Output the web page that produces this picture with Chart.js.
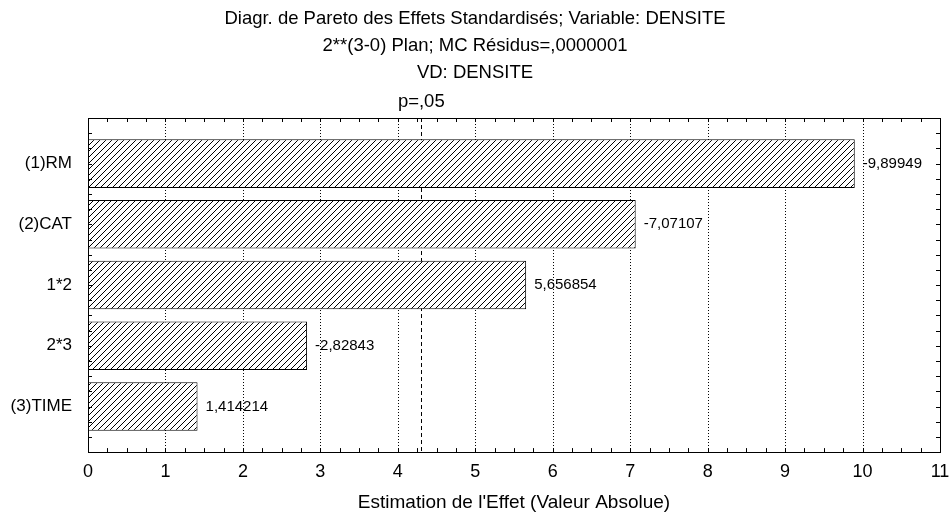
<!DOCTYPE html>
<html>
<head>
<meta charset="utf-8">
<script src="https://cdn.jsdelivr.net/npm/chart.js@4/dist/chart.umd.min.js"></script>
<style>
  html, body { margin: 0; background: #fff; }
  #wrap { width: 950px; height: 513px; }
</style>
</head>
<body>
<div id="wrap"><canvas id="pareto"></canvas></div>
<script>
// Pareto des effets standardisés
const effects = ['(1)RM', '(2)CAT', '1*2', '2*3', '(3)TIME'];
const absEffects = [9.89949, 7.07107, 5.656854, 2.82843, 1.414214];
const effectLabels = ['-9,89949', '-7,07107', '5,656854', '-2,82843', '1,414214'];
const xTickValues = [0, 1, 2, 3, 4, 5, 6, 7, 8, 9, 10, 11];
const critT = 4.303; // p=,05
const titleLines = [
  'Diagr. de Pareto des Effets Standardisés; Variable: DENSITE',
  '2**(3-0) Plan; MC Résidus=,0000001',
  'VD: DENSITE'
];
const critLabel = 'p=,05';
const xTitle = "Estimation de l'Effet (Valeur Absolue)";

const FONT = "'Liberation Sans', Arial, sans-serif";

function hatchPattern() {
  const c = document.createElement('canvas');
  c.width = 6; c.height = 6;
  const g = c.getContext('2d');
  g.fillStyle = '#fff';
  g.fillRect(0, 0, 6, 6);
  g.strokeStyle = '#000';
  g.lineWidth = 1;
  g.beginPath();
  g.moveTo(-1, 7); g.lineTo(7, -1);
  g.moveTo(-1, 1); g.lineTo(1, -1);
  g.moveTo(5, 7); g.lineTo(7, 5);
  g.stroke();
  return g.createPattern(c, 'repeat');
}

// grille pointillée, ligne critique, petites graduations, cadre
const framePlugin = {
  id: 'frame',
  beforeDatasetsDraw(chart) {
    const { ctx, chartArea: a, scales } = chart;
    const x = scales.x;
    ctx.save();
    ctx.strokeStyle = '#000';
    ctx.lineWidth = 1;
    ctx.setLineDash([1, 2]);
    xTickValues.slice(1, -1).forEach(v => {
      const px = Math.round(x.getPixelForValue(v)) + 0.5;
      ctx.beginPath(); ctx.moveTo(px, a.top); ctx.lineTo(px, a.bottom); ctx.stroke();
    });
    ctx.setLineDash([4, 3]);
    const cx = Math.round(x.getPixelForValue(critT)) + 0.5;
    ctx.beginPath(); ctx.moveTo(cx, a.top); ctx.lineTo(cx, a.bottom); ctx.stroke();
    ctx.restore();
  },
  afterDraw(chart) {
    const { ctx, chartArea: a, scales } = chart;
    const x = scales.x, y = scales.y;
    ctx.save();
    ctx.strokeStyle = '#000';
    ctx.lineWidth = 1;
    ctx.strokeRect(Math.round(a.left) + 0.5, Math.round(a.top) + 0.5,
      Math.round(a.right - a.left), Math.round(a.bottom - a.top));
    ctx.beginPath();
    for (let v = 0.25; v < 11; v += 0.25) {
      const px = Math.round(x.getPixelForValue(v)) + 0.5;
      ctx.moveTo(px, a.bottom); ctx.lineTo(px, a.bottom - 4);
      ctx.moveTo(px, a.top); ctx.lineTo(px, a.top + 4);
    }
    for (let v = 0.5; v < 5.75; v += 0.25) {
      const py = Math.round(y.getPixelForValue(v)) + 0.5;
      ctx.moveTo(a.left, py); ctx.lineTo(a.left + 4, py);
      ctx.moveTo(a.right, py); ctx.lineTo(a.right - 4, py);
    }
    ctx.stroke();

    // étiquette p=,05
    ctx.fillStyle = '#000';
    ctx.font = '18.5px ' + FONT;
    ctx.textAlign = 'center';
    ctx.textBaseline = 'middle';
    ctx.fillText(critLabel, x.getPixelForValue(critT), a.top - 16);

    // valeurs des effets
    ctx.font = '15px ' + FONT;
    ctx.textAlign = 'left';
    chart.getDatasetMeta(0).data.forEach((bar, i) => {
      ctx.fillText(effectLabels[i], bar.x + 8, bar.y);
    });
    ctx.restore();
  }
};

new Chart(document.getElementById('pareto'), {
  type: 'bar',
  data: {
    datasets: [{
      data: absEffects.map((v, i) => ({ x: v, y: i + 1 })),
      backgroundColor: hatchPattern(),
      borderColor: '#000',
      borderWidth: 1,
      borderSkipped: false,
      categoryPercentage: 1,
      barPercentage: 0.8
    }]
  },
  options: {
    indexAxis: 'y',
    responsive: true,
    maintainAspectRatio: false,
    animation: false,
    layout: { padding: { left: 10, right: 10, bottom: -1.5 } },
    plugins: {
      legend: { display: false },
      tooltip: { enabled: false },
      title: {
        display: true,
        text: titleLines,
        color: '#000',
        font: { family: FONT, size: 18.5, weight: 'normal', lineHeight: 1.46 },
        padding: { top: 5, bottom: 32 }
      }
    },
    scales: {
      x: {
        type: 'linear',
        min: 0,
        max: 11,
        offset: false,
        afterBuildTicks: s => { s.ticks = xTickValues.map(v => ({ value: v })); },
        afterFit: s => { s.paddingLeft = 0; s.paddingRight = 0; },
        grid: { display: false, drawTicks: false },
        border: { display: false },
        ticks: { color: '#000', font: { family: FONT, size: 18 }, padding: 9 },
        title: {
          display: true,
          text: xTitle,
          color: '#000',
          font: { family: FONT, size: 19 },
          padding: { top: 0, bottom: 0 }
        }
      },
      y: {
        type: 'linear',
        min: 0.25,
        max: 5.75,
        reverse: true,
        offset: false,
        afterBuildTicks: s => { s.ticks = effects.map((_, i) => ({ value: i + 1 })); },
        afterFit: s => { s.width = 78; },
        grid: { display: false, drawTicks: false },
        border: { display: false },
        ticks: {
          color: '#000',
          font: { family: FONT, size: 17 },
          padding: 16,
          callback: v => effects[v - 1]
        }
      }
    }
  },
  plugins: [framePlugin]
});
</script>
</body>
</html>
